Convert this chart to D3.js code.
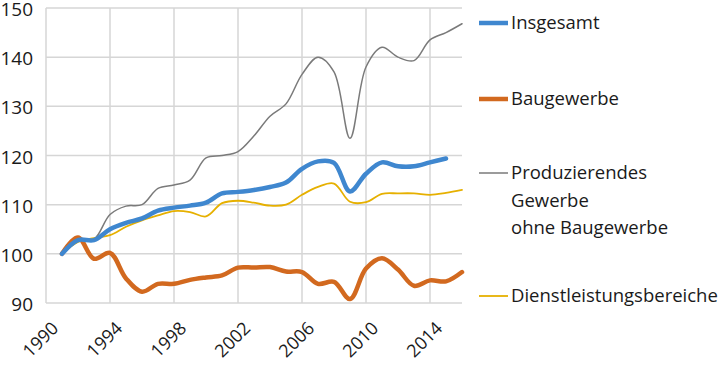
<!DOCTYPE html>
<html>
<head>
<meta charset="utf-8" />
<title>Index</title>
<style>
  body { margin: 0; background: #fff; }
  text { font-family: "Open Sans", sans-serif; fill: #1a1a1a; }
</style>
<script src="https://d3js.org/d3.v7.min.js"></script>
</head>
<body>
<script>
// data (index, 1991 = 100)
var years = d3.range(1991, 2017);
var insgesamt = [100, 102.8, 102.8, 105, 106.3, 107.2, 108.8, 109.4, 109.8, 110.4, 112.3, 112.6, 113, 113.6, 114.5, 117.3, 118.8, 118.5, 112.7, 116.3, 118.6, 117.8, 117.8, 118.6, 119.4];
var baugewerbe = [100, 103.3, 99, 100.2, 95, 92.3, 93.9, 93.9, 94.7, 95.2, 95.6, 97.2, 97.2, 97.3, 96.4, 96.3, 93.9, 94.3, 90.8, 97, 99.1, 96.8, 93.5, 94.6, 94.4, 96.3];
var produzierend = [100, 103, 103, 108, 109.7, 110, 113.3, 114, 115, 119.5, 120, 120.8, 124, 128, 130.5, 136.5, 140, 137, 123.5, 138, 142, 140, 139.3, 143.5, 145, 146.8];
var dienst = [100, 102.4, 103.2, 103.8, 105.5, 106.8, 107.8, 108.7, 108.5, 107.6, 110.3, 110.8, 110.4, 109.8, 110, 112, 113.6, 114.3, 110.6, 110.5, 112.2, 112.3, 112.3, 112, 112.4, 113];
var xTicks = [1990, 1994, 1998, 2002, 2006, 2010, 2014];
var yTicks = [90, 100, 110, 120, 130, 140, 150];

var series = [
  { name: ["Insgesamt"], values: insgesamt, color: "#3f87cf", width: 4.5, ly: 23 },
  { name: ["Baugewerbe"], values: baugewerbe, color: "#d2691f", width: 4.5, ly: 99 },
  { name: ["Produzierendes", "Gewerbe", "ohne Baugewerbe"], values: produzierend, color: "#7a7a7a", width: 1.5, ly: 173 },
  { name: ["Dienstleistungsbereiche"], values: dienst, color: "#e6b000", width: 1.8, ly: 296 }
];
// draw order: gray, yellow, orange, blue on top
var order = [2, 3, 1, 0];

var svg = d3.select("body").append("svg")
    .attr("width", 727)
    .attr("height", 366);

var x = d3.scaleLinear().domain([1990, 2016]).range([46, 462]);
var y = d3.scaleLinear().domain([90, 150]).range([303, 8]);

// grid
svg.append("g").selectAll("line.h")
    .data(yTicks)
    .enter().append("line")
    .attr("x1", x(1990)).attr("x2", x(2016))
    .attr("y1", function(d){ return y(d); })
    .attr("y2", function(d){ return y(d); })
    .attr("stroke", "#d6d6d6")
    .attr("stroke-width", 1.5);

svg.append("g").selectAll("line.v")
    .data(xTicks)
    .enter().append("line")
    .attr("x1", function(d){ return x(d); })
    .attr("x2", function(d){ return x(d); })
    .attr("y1", y(150)).attr("y2", y(90))
    .attr("stroke", "#d6d6d6")
    .attr("stroke-width", 1.5);

// y labels
svg.append("g").selectAll("text")
    .data(yTicks)
    .enter().append("text")
    .attr("x", 33)
    .attr("y", function(d){ return y(d) + 1.5; })
    .attr("dy", "0.35em")
    .attr("text-anchor", "end")
    .attr("font-size", 19)
    .text(function(d){ return d; });

// x labels, rotated
svg.append("g").selectAll("text")
    .data(xTicks)
    .enter().append("text")
    .attr("transform", function(d){ return "translate(" + (x(d) + 9) + ",325) rotate(-45)"; })
    .attr("dy", "0.35em")
    .attr("text-anchor", "end")
    .attr("font-size", 18)
    .text(function(d){ return d; });

var line = d3.line()
    .x(function(d){ return x(d[0]); })
    .y(function(d){ return y(d[1]); })
    .curve(d3.curveCatmullRom.alpha(0.5));

order.forEach(function(i){
  var s = series[i];
  var pts = s.values.map(function(v, k){ return [years[k], v]; });
  svg.append("path")
      .attr("d", line(pts))
      .attr("fill", "none")
      .attr("stroke", s.color)
      .attr("stroke-width", s.width)
      .attr("stroke-linejoin", "round")
      .attr("stroke-linecap", "round");
});

// legend
var leg = svg.append("g");
series.forEach(function(s){
  leg.append("line")
      .attr("x1", 479).attr("x2", 508)
      .attr("y1", s.ly).attr("y2", s.ly)
      .attr("stroke", s.color)
      .attr("stroke-width", s.width);
  s.name.forEach(function(t, k){
    leg.append("text")
        .attr("x", 511)
        .attr("y", s.ly + k * 27.5)
        .attr("dy", "0.35em")
        .attr("font-size", 18.5)
        .text(t);
  });
});
</script>
</body>
</html>
